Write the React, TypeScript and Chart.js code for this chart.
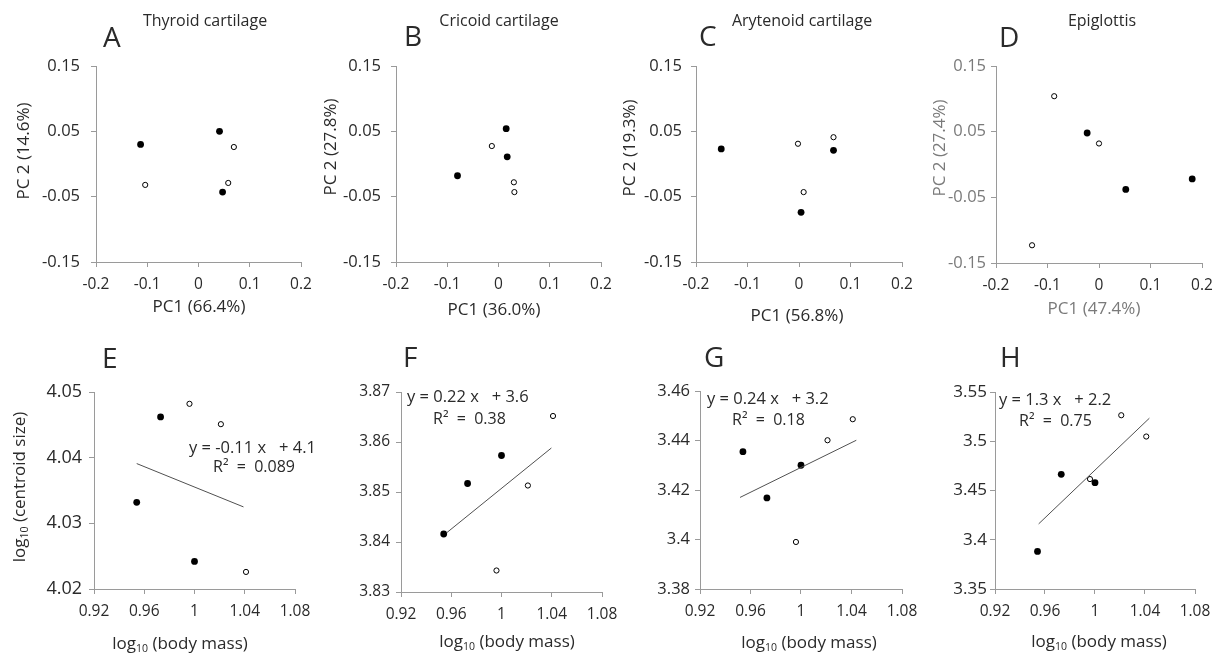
import React, { useEffect, useRef } from "react";
import { Chart, registerables } from "chart.js";
Chart.register(...registerables);

const FONT = "'Open Sans', sans-serif";
const DARK = "#2a2a2a";
const GRAY = "#7a7a7a";
const AXIS = "#9a9a9a";

// ---------- Top row: PCA scores ----------
const pcTickValuesX = [-0.2, -0.1, 0, 0.1, 0.2];
const pcTickLabelsX = ["-0.2", "-0.1", "0", "0.1", "0.2"];
const pcTickValuesY = [-0.15, -0.05, 0.05, 0.15];
const pcTickLabelsY = ["-0.15", "-0.05", "0.05", "0.15"];

const thyroidFilledPC1 = [-0.113, 0.041, 0.047];
const thyroidFilledPC2 = [0.03, 0.05, -0.043];
const thyroidOpenPC1 = [-0.104, 0.069, 0.058];
const thyroidOpenPC2 = [-0.032, 0.026, -0.029];

const cricoidFilledPC1 = [0.015, 0.017, -0.08];
const cricoidFilledPC2 = [0.054, 0.011, -0.018];
const cricoidOpenPC1 = [-0.013, 0.03, 0.031];
const cricoidOpenPC2 = [0.0275, -0.028, -0.043];

const arytenoidFilledPC1 = [-0.151, 0.067, 0.004];
const arytenoidFilledPC2 = [0.023, 0.021, -0.074];
const arytenoidOpenPC1 = [-0.002, 0.067, 0.009];
const arytenoidOpenPC2 = [0.031, 0.041, -0.043];

const epiglottisFilledPC1 = [-0.023, 0.052, 0.181];
const epiglottisFilledPC2 = [0.048, -0.038, -0.022];
const epiglottisOpenPC1 = [-0.087, 0.0, -0.13];
const epiglottisOpenPC2 = [0.104, 0.032, -0.123];

// ---------- Bottom row: log10 centroid size vs log10 body mass ----------
const massTickValues = [0.92, 0.96, 1, 1.04, 1.08];
const massTickLabels = ["0.92", "0.96", "1", "1.04", "1.08"];
const filledMass = [0.954, 0.973, 1.0];
const openMass = [0.996, 1.021, 1.041];

const thyroidCsTicks = [4.02, 4.03, 4.04, 4.05];
const thyroidCsLabels = ["4.02", "4.03", "4.04", "4.05"];
const thyroidFilledCs = [4.0332, 4.0462, 4.0242];
const thyroidOpenCs = [4.0482, 4.0451, 4.0226];
const thyroidTrendMass = [0.954, 1.039];
const thyroidTrendCs = [4.0391, 4.0325];

const cricoidCsTicks = [3.83, 3.84, 3.85, 3.86, 3.87];
const cricoidCsLabels = ["3.83", "3.84", "3.85", "3.86", "3.87"];
const cricoidFilledCs = [3.8416, 3.8517, 3.8573];
const cricoidOpenCs = [3.8343, 3.8513, 3.8652];
const cricoidTrendMass = [0.9566, 1.0397];
const cricoidTrendCs = [3.8419, 3.8588];

const arytenoidCsTicks = [3.38, 3.4, 3.42, 3.44, 3.46];
const arytenoidCsLabels = ["3.38", "3.4", "3.42", "3.44", "3.46"];
const arytenoidFilledCs = [3.4355, 3.4168, 3.43];
const arytenoidOpenCs = [3.399, 3.4401, 3.4486];
const arytenoidTrendMass = [0.9517, 1.0438];
const arytenoidTrendCs = [3.417, 3.4401];

const epiglottisCsTicks = [3.35, 3.4, 3.45, 3.5, 3.55];
const epiglottisCsLabels = ["3.35", "3.4", "3.45", "3.5", "3.55"];
const epiglottisFilledCs = [3.3881, 3.4664, 3.4579];
const epiglottisOpenCs = [3.4616, 3.5264, 3.5048];
const epiglottisTrendMass = [0.9549, 1.0435];
const epiglottisTrendCs = [3.4161, 3.5234];

const panelTitles = ["Thyroid cartilage", "Cricoid cartilage", "Arytenoid cartilage", "Epiglottis"];
const panelLetters = ["A", "B", "C", "D", "E", "F", "G", "H"];
const pcXTitles = ["PC1 (66.4%)", "PC1 (36.0%)", "PC1 (56.8%)", "PC1 (47.4%)"];
const pcYTitles = ["PC 2 (14.6%)", "PC 2 (27.8%)", "PC 2 (19.3%)", "PC 2 (27.4%)"];
const equations = ["y = -0.11 x   + 4.1", "y = 0.22 x   + 3.6", "y = 0.24 x   + 3.2", "y = 1.3 x   + 2.2"];
const rSquared = ["R\u00B2  =  0.089", "R\u00B2  =  0.38", "R\u00B2  =  0.18", "R\u00B2  =  0.75"];

type Part = { t: string; size: number; dy?: number };
type TextItem = {
  parts: Part[];
  x: number;
  y: number;
  color?: string;
  align?: "left" | "center";
  baseline?: CanvasTextBaseline;
  rotate?: boolean;
};

const zip = (xs: number[], ys: number[]) => xs.map((x, i) => ({ x, y: ys[i] }));

const filledSet = (xs: number[], ys: number[]) => ({
  data: zip(xs, ys),
  pointRadius: 3.4,
  pointBackgroundColor: "#000",
  pointBorderColor: "#000",
  pointBorderWidth: 0,
  showLine: false,
});
const openSet = (xs: number[], ys: number[]) => ({
  data: zip(xs, ys),
  pointRadius: 2.6,
  pointBackgroundColor: "#fff",
  pointBorderColor: "#000",
  pointBorderWidth: 1,
  showLine: false,
});
const trendSet = (xs: number[], ys: number[]) => ({
  data: zip(xs, ys),
  pointRadius: 0,
  showLine: true,
  borderColor: "#505050",
  borderWidth: 1,
  fill: false,
});

type Area = { l: number; t: number; r: number; b: number };
type Panel = {
  cell: { x: number; y: number; w: number; h: number };
  area: Area;
  datasets: any[];
  xMin: number; xMax: number; xVals: number[]; xLabels: string[];
  yMin: number; yMax: number; yVals: number[]; yLabels: string[];
  yTickSize: number; yTickPad: number; yTickColor: string;
  texts: TextItem[];
};

const logTitle = (rest: string): Part[] => [
  { t: "log", size: 17 },
  { t: "10", size: 10.5, dy: 5 },
  { t: rest, size: 17 },
];

const colX = [0, 300, 600, 900];
const colW = [330, 330, 330, 321];
const topAreas: Area[] = [
  { l: 96, t: 66, r: 301, b: 262 },
  { l: 396, t: 66, r: 601, b: 262 },
  { l: 696, t: 66, r: 902, b: 262 },
  { l: 996, t: 66, r: 1202, b: 263 },
];
const topLetterPos = [[103, 47], [404, 46], [699, 46], [999, 47]];
const topTitleX = [205, 499, 802, 1102];
const topYTitlePos = [[24, 151], [331, 147], [630, 148], [940, 148]];
const topXTitlePos = [[199, 307], [494, 310], [797, 316], [1094, 309]];
const topTickPad = [11, 10, 9, 5];

const bottomAreas: Area[] = [
  { l: 94, t: 392, r: 295, b: 589 },
  { l: 401, t: 392, r: 602, b: 592 },
  { l: 700, t: 391, r: 902, b: 589 },
  { l: 995, t: 392, r: 1195, b: 589 },
];
const bottomLetterPos = [[102, 368], [403, 367], [704, 367], [1000, 367]];
const bottomXTitlePos = [[180, 644], [507, 642], [809, 643], [1099, 642]];
const eqPos = [[189, 448], [407, 397], [707, 399], [999, 400]];
const r2Pos = [[213, 467], [433, 419], [732, 420], [1019, 421]];
const bottomTickPad = [7, 6, 5, 3];
const bottomTickSize = [18, 15.5, 16.5, 17];

const pcData = [
  [thyroidFilledPC1, thyroidFilledPC2, thyroidOpenPC1, thyroidOpenPC2],
  [cricoidFilledPC1, cricoidFilledPC2, cricoidOpenPC1, cricoidOpenPC2],
  [arytenoidFilledPC1, arytenoidFilledPC2, arytenoidOpenPC1, arytenoidOpenPC2],
  [epiglottisFilledPC1, epiglottisFilledPC2, epiglottisOpenPC1, epiglottisOpenPC2],
];
const csData = [
  [thyroidFilledCs, thyroidOpenCs, thyroidTrendMass, thyroidTrendCs, thyroidCsTicks, thyroidCsLabels],
  [cricoidFilledCs, cricoidOpenCs, cricoidTrendMass, cricoidTrendCs, cricoidCsTicks, cricoidCsLabels],
  [arytenoidFilledCs, arytenoidOpenCs, arytenoidTrendMass, arytenoidTrendCs, arytenoidCsTicks, arytenoidCsLabels],
  [epiglottisFilledCs, epiglottisOpenCs, epiglottisTrendMass, epiglottisTrendCs, epiglottisCsTicks, epiglottisCsLabels],
] as any[];

const panels: Panel[] = [];
for (let i = 0; i < 4; i++) {
  const [fx, fy, ox, oy] = pcData[i];
  const isD = i === 3;
  panels.push({
    cell: { x: colX[i], y: 0, w: colW[i], h: 335 },
    area: topAreas[i],
    datasets: [filledSet(fx, fy), openSet(ox, oy)],
    xMin: -0.2, xMax: 0.2, xVals: pcTickValuesX, xLabels: pcTickLabelsX,
    yMin: -0.15, yMax: 0.15, yVals: pcTickValuesY, yLabels: pcTickLabelsY,
    yTickSize: 16.5, yTickPad: topTickPad[i], yTickColor: isD ? GRAY : DARK,
    texts: [
      { parts: [{ t: panelLetters[i], size: 28 }], x: topLetterPos[i][0], y: topLetterPos[i][1], align: "left", baseline: "alphabetic" },
      { parts: [{ t: panelTitles[i], size: 16 }], x: topTitleX[i], y: 26, baseline: "alphabetic" },
      { parts: [{ t: pcYTitles[i], size: 17 }], x: topYTitlePos[i][0], y: topYTitlePos[i][1], rotate: true, color: isD ? GRAY : DARK },
      { parts: [{ t: pcXTitles[i], size: 17 }], x: topXTitlePos[i][0], y: topXTitlePos[i][1], color: isD ? GRAY : DARK },
    ],
  });
}
for (let i = 0; i < 4; i++) {
  const [fc, oc, tm, tc, yv, yl] = csData[i];
  const texts: TextItem[] = [
    { parts: [{ t: panelLetters[4 + i], size: 28 }], x: bottomLetterPos[i][0], y: bottomLetterPos[i][1], align: "left", baseline: "alphabetic" },
    { parts: logTitle(" (body mass)"), x: bottomXTitlePos[i][0], y: bottomXTitlePos[i][1] },
    { parts: [{ t: equations[i], size: 16.5 }], x: eqPos[i][0], y: eqPos[i][1], align: "left" },
    { parts: [{ t: rSquared[i], size: 16 }], x: r2Pos[i][0], y: r2Pos[i][1], align: "left" },
  ];
  if (i === 0) texts.push({ parts: logTitle(" (centroid size)"), x: 20, y: 487, rotate: true });
  panels.push({
    cell: { x: colX[i], y: 330, w: colW[i], h: 329 },
    area: bottomAreas[i],
    datasets: [trendSet(tm, tc), filledSet(filledMass, fc), openSet(openMass, oc)],
    xMin: 0.92, xMax: 1.08, xVals: massTickValues, xLabels: massTickLabels,
    yMin: yv[0], yMax: yv[yv.length - 1], yVals: yv, yLabels: yl,
    yTickSize: bottomTickSize[i], yTickPad: bottomTickPad[i], yTickColor: DARK,
    texts,
  });
}

const makeTextPlugin = (items: TextItem[], ox: number, oy: number) => ({
  id: "panelText",
  afterDraw(chart: any) {
    const ctx: CanvasRenderingContext2D = chart.ctx;
    for (const it of items) {
      ctx.save();
      ctx.fillStyle = it.color ?? DARK;
      ctx.textBaseline = it.baseline ?? "middle";
      ctx.textAlign = "left";
      let total = 0;
      const widths: number[] = [];
      for (const p of it.parts) {
        ctx.font = `${p.size}px ${FONT}`;
        const w = ctx.measureText(p.t).width;
        widths.push(w);
        total += w;
      }
      ctx.translate(it.x - ox, it.y - oy);
      if (it.rotate) ctx.rotate(-Math.PI / 2);
      let x = it.align === "left" ? 0 : -total / 2;
      it.parts.forEach((p, k) => {
        ctx.font = `${p.size}px ${FONT}`;
        ctx.fillText(p.t, x, p.dy ?? 0);
        x += widths[k];
      });
      ctx.restore();
    }
  },
});

const labelFor = (vals: number[], labels: string[]) => (v: any) => {
  const k = vals.findIndex((t) => Math.abs(t - Number(v)) < 1e-9);
  return k >= 0 ? labels[k] : "";
};

function PanelChart({ p }: { p: Panel }) {
  const ref = useRef<HTMLCanvasElement>(null);
  useEffect(() => {
    if (!ref.current) return;
    const { cell, area } = p;
    const xh = 40;
    const yw = area.l - cell.x;
    const padT = area.t - cell.y;
    const padR = cell.x + cell.w - area.r;
    const padB = cell.y + cell.h - area.b - xh;
    const chart = new Chart(ref.current, {
      type: "scatter",
      data: { datasets: p.datasets },
      options: {
        animation: false,
        responsive: false,
        devicePixelRatio: 1,
        events: [],
        layout: { padding: { left: 0, top: padT, right: padR, bottom: padB } },
        plugins: { legend: { display: false }, tooltip: { enabled: false } },
        scales: {
          x: {
            type: "linear",
            min: p.xMin,
            max: p.xMax,
            afterBuildTicks: (s: any) => {
              s.ticks = p.xVals.map((v) => ({ value: v }));
            },
            afterFit: (s: any) => {
              s.height = xh;
            },
            ticks: {
              callback: labelFor(p.xVals, p.xLabels),
              font: { family: FONT, size: 15.5 },
              color: DARK,
              padding: 8,
              maxRotation: 0,
              autoSkip: false,
            },
            grid: { drawOnChartArea: false, drawTicks: true, tickLength: 5, color: AXIS, lineWidth: 1 },
            border: { display: true, color: AXIS, width: 1 },
          },
          y: {
            type: "linear",
            min: p.yMin,
            max: p.yMax,
            afterBuildTicks: (s: any) => {
              s.ticks = p.yVals.map((v) => ({ value: v }));
            },
            afterFit: (s: any) => {
              s.width = yw;
            },
            ticks: {
              callback: labelFor(p.yVals, p.yLabels),
              font: { family: FONT, size: p.yTickSize },
              color: p.yTickColor,
              padding: p.yTickPad,
              autoSkip: false,
            },
            grid: { drawOnChartArea: false, drawTicks: true, tickLength: 5, color: AXIS, lineWidth: 1 },
            border: { display: true, color: AXIS, width: 1 },
          },
        },
      } as any,
      plugins: [makeTextPlugin(p.texts, cell.x, cell.y)],
    });
    return () => chart.destroy();
  }, [p]);
  return (
    <canvas
      ref={ref}
      width={p.cell.w}
      height={p.cell.h}
      style={{
        position: "absolute",
        left: p.cell.x,
        top: p.cell.y,
        width: p.cell.w,
        height: p.cell.h,
      }}
    />
  );
}

export default function App() {
  return (
    <div
      style={{
        position: "absolute",
        left: 0,
        top: 0,
        width: 1221,
        height: 659,
        background: "#fff",
        overflow: "hidden",
      }}
    >
      {panels.map((p, i) => (
        <PanelChart key={i} p={p} />
      ))}
    </div>
  );
}
